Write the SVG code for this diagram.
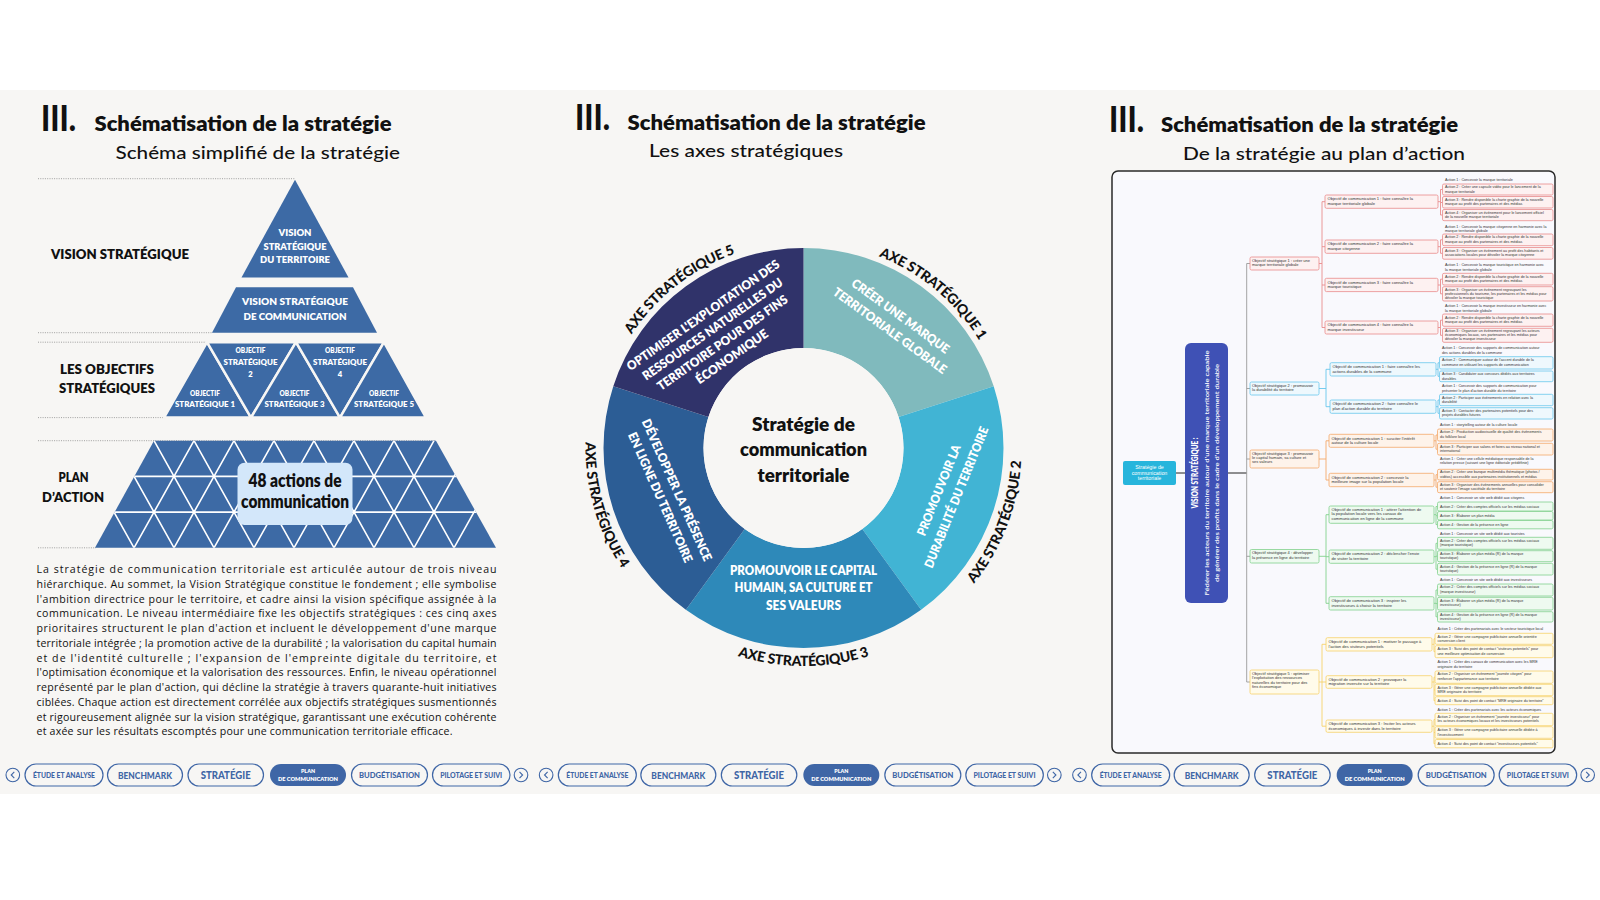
<svg xmlns="http://www.w3.org/2000/svg" width="1600" height="900" viewBox="0 0 1600 900">
<style>
.f{font-family:Lato,'Liberation Sans',sans-serif}
.h1{font-family:Lato,'Liberation Sans',sans-serif;font-weight:900;font-size:36px;fill:#111}
.h2{font-family:Lato,'Liberation Sans',sans-serif;font-weight:800;font-size:21px;fill:#111}
.h3{font-family:Lato,'Liberation Sans',sans-serif;font-weight:500;font-size:18px;fill:#111}
.lb{font-family:Lato,'Liberation Sans',sans-serif;font-weight:800;font-size:12.5px;fill:#111;text-anchor:middle}
.pw{font-family:Lato,'Liberation Sans',sans-serif;font-weight:800;fill:#fff;text-anchor:middle}
.dot{stroke:#8a8a8a;stroke-width:0.8;stroke-dasharray:1 1.3;fill:none}
.pyr{fill:#3d6aa5}
.para{font-family:'Open Sans','Liberation Sans',sans-serif;font-size:10.6px;fill:#111}
.pill{fill:#f7f6f4;stroke:#3f66a6;stroke-width:1.2}
.pt{font-family:Lato,'Liberation Sans',sans-serif;font-weight:900;fill:#3f66a6;text-anchor:middle}
.seg{font-family:Lato,'Liberation Sans',sans-serif;font-weight:800;font-size:12.5px;fill:#fff;text-anchor:middle}
.axe{font-family:Lato,'Liberation Sans',sans-serif;font-weight:900;font-size:14px;fill:#111;letter-spacing:-0.2px}
.ctr{font-family:Lato,'Liberation Sans',sans-serif;font-weight:800;font-size:19px;fill:#111;text-anchor:middle}
.mm{font-family:'Liberation Sans',Arial,sans-serif;fill:#333}
.os{font-size:4px}
.oc{font-size:4.1px}
.at{font-size:3.7px}
.r1{fill:#fdf1f1;stroke:#e98c8c;stroke-width:0.8}
.r2{fill:#eef8fd;stroke:#68c6ec;stroke-width:0.8}
.r3{fill:#fef3ea;stroke:#f4a86a;stroke-width:0.8}
.r4{fill:#eefaf0;stroke:#82d18d;stroke-width:0.8}
.r5{fill:#fffbea;stroke:#f6d26a;stroke-width:0.8}
.c1{stroke:#e98c8c;stroke-width:0.9;fill:none}
.c2{stroke:#68c6ec;stroke-width:0.9;fill:none}
.c3{stroke:#f4a86a;stroke-width:0.9;fill:none}
.c4{stroke:#82d18d;stroke-width:0.9;fill:none}
.c5{stroke:#f6d26a;stroke-width:0.9;fill:none}
</style>
<defs>
<clipPath id="bandClip"><polygon points="154,440.7 436,440.7 496,547.8 95,547.8"/></clipPath>
<path id="pA1" d="M 733.0 254.4 A 206 206 0 0 1 1006.4 483.8" fill="none"/>
<path id="pA5" d="M 599.5 476.7 A 206 206 0 0 1 880.7 257.0" fill="none"/>
<path id="pA2" d="M 837.6 663.3 A 218 218 0 0 0 972.9 310.8" fill="none"/>
<path id="pA3" d="M 614.7 557 A 218 218 0 0 0 992.3 557" fill="none"/>
<path id="pA4" d="M 646.7 296.6 A 218 218 0 0 0 750.8 659.5" fill="none"/>
<g id="navbar">
  <circle cx="12.8" cy="775" r="6.8" fill="none" stroke="#3f66a6" stroke-width="1.1"/>
  <path d="M 14.3 771.8 L 11.2 775 L 14.3 778.2" fill="none" stroke="#3f66a6" stroke-width="1.1"/>
  <rect class="pill" x="25" y="764" width="78" height="22" rx="11"/>
  <text class="pt" x="64" y="777.5" font-size="6.6" textLength="62" lengthAdjust="spacingAndGlyphs">ÉTUDE ET ANALYSE</text>
  <rect class="pill" x="107.5" y="764" width="75" height="22" rx="11"/>
  <text class="pt" x="145" y="778.5" font-size="9" textLength="54" lengthAdjust="spacingAndGlyphs">BENCHMARK</text>
  <rect class="pill" x="188" y="764" width="75.5" height="22" rx="11"/>
  <text class="pt" x="225.7" y="779" font-size="10.5" textLength="50" lengthAdjust="spacingAndGlyphs">STRATÉGIE</text>
  <rect x="270" y="764" width="76" height="22" rx="11" fill="#3f66a6"/>
  <text class="pw" x="308" y="773" font-size="5.5" textLength="14" lengthAdjust="spacingAndGlyphs">PLAN</text>
  <text class="pw" x="308" y="781" font-size="5.5" textLength="60" lengthAdjust="spacingAndGlyphs">DE COMMUNICATION</text>
  <rect class="pill" x="351.5" y="764" width="76" height="22" rx="11"/>
  <text class="pt" x="389.5" y="778" font-size="7.6" textLength="61" lengthAdjust="spacingAndGlyphs">BUDGÉTISATION</text>
  <rect class="pill" x="432.5" y="764" width="77.5" height="22" rx="11"/>
  <text class="pt" x="471.2" y="778" font-size="7.6" textLength="62" lengthAdjust="spacingAndGlyphs">PILOTAGE ET SUIVI</text>
  <circle cx="521" cy="775" r="6.8" fill="none" stroke="#3f66a6" stroke-width="1.1"/>
  <path d="M 519.5 771.8 L 522.6 775 L 519.5 778.2" fill="none" stroke="#3f66a6" stroke-width="1.1"/>
</g>
</defs>

<rect x="0" y="0" width="1600" height="900" fill="#ffffff"/>
<rect x="0" y="90" width="1600" height="704" fill="#f7f6f4"/>

<!-- ===== LEFT PANEL ===== -->
<g id="title-left">
  <text class="h1" x="41" y="131" textLength="35" lengthAdjust="spacingAndGlyphs">III.</text>
  <text class="h2" x="94.5" y="130.5" textLength="297" lengthAdjust="spacingAndGlyphs">Schématisation de la stratégie</text>
  <text class="h3" x="115.5" y="159" textLength="284.5" lengthAdjust="spacingAndGlyphs">Schéma simplifié de la stratégie</text>
</g>

<g id="pyramid-guides">
  <line class="dot" x1="38" y1="178.7" x2="295" y2="178.7"/>
  <line class="dot" x1="38" y1="332.7" x2="212" y2="332.7"/>
  <line class="dot" x1="38" y1="342.2" x2="206" y2="342.2"/>
  <line class="dot" x1="38" y1="417.6" x2="166" y2="417.6"/>
  <line class="dot" x1="38" y1="440.7" x2="436" y2="440.7"/>
  <line class="dot" x1="38" y1="547.8" x2="96" y2="547.8"/>
</g>

<g id="vision-territoire">
  <polygon class="pyr" points="295,179.7 241.5,277.4 348.5,277.4"/>
  <text class="pw" x="295" y="236" font-size="9" textLength="33" lengthAdjust="spacingAndGlyphs">VISION</text>
  <text class="pw" x="295" y="249.8" font-size="9" textLength="63" lengthAdjust="spacingAndGlyphs">STRATÉGIQUE</text>
  <text class="pw" x="295" y="263.1" font-size="9" textLength="70" lengthAdjust="spacingAndGlyphs">DU TERRITOIRE</text>
</g>
<g id="vision-communication">
  <polygon class="pyr" points="236,287.3 353,287.3 377,332.7 212,332.7"/>
  <text class="pw" x="295" y="305" font-size="9.8" textLength="106" lengthAdjust="spacingAndGlyphs">VISION STRATÉGIQUE</text>
  <text class="pw" x="295" y="319.8" font-size="9.8" textLength="103" lengthAdjust="spacingAndGlyphs">DE COMMUNICATION</text>
</g>
<g id="label-vision"><text class="lb" x="120" y="258.7" textLength="138" lengthAdjust="spacingAndGlyphs">VISION STRATÉGIQUE</text></g>

<g id="objectifs" stroke="#f7f6f4" stroke-width="2.5" stroke-linejoin="round">
  <polygon class="pyr" points="207,342.2 164,417.6 251,417.6"/>
  <polygon class="pyr" points="207,342.2 296,342.2 251,417.6"/>
  <polygon class="pyr" points="296,342.2 251,417.6 340,417.6"/>
  <polygon class="pyr" points="296,342.2 384,342.2 340,417.6"/>
  <polygon class="pyr" points="384,342.2 340,417.6 426,417.6"/>
</g>
<g id="objectif-labels">
  <text class="pw" x="205" y="395.5" font-size="7.6" textLength="30" lengthAdjust="spacingAndGlyphs">OBJECTIF</text>
  <text class="pw" x="205" y="407.2" font-size="7.6" textLength="60" lengthAdjust="spacingAndGlyphs">STRATÉGIQUE 1</text>
  <text class="pw" x="250.5" y="353" font-size="7.6" textLength="30" lengthAdjust="spacingAndGlyphs">OBJECTIF</text>
  <text class="pw" x="250.5" y="364.8" font-size="7.6" textLength="54" lengthAdjust="spacingAndGlyphs">STRATÉGIQUE</text>
  <text class="pw" x="250.5" y="376.8" font-size="7.6">2</text>
  <text class="pw" x="294.5" y="395.5" font-size="7.6" textLength="30" lengthAdjust="spacingAndGlyphs">OBJECTIF</text>
  <text class="pw" x="294.5" y="407.2" font-size="7.6" textLength="60" lengthAdjust="spacingAndGlyphs">STRATÉGIQUE 3</text>
  <text class="pw" x="340" y="353" font-size="7.6" textLength="30" lengthAdjust="spacingAndGlyphs">OBJECTIF</text>
  <text class="pw" x="340" y="364.8" font-size="7.6" textLength="54" lengthAdjust="spacingAndGlyphs">STRATÉGIQUE</text>
  <text class="pw" x="340" y="376.8" font-size="7.6">4</text>
  <text class="pw" x="384" y="395.5" font-size="7.6" textLength="30" lengthAdjust="spacingAndGlyphs">OBJECTIF</text>
  <text class="pw" x="384" y="407.2" font-size="7.6" textLength="60" lengthAdjust="spacingAndGlyphs">STRATÉGIQUE 5</text>
</g>
<g id="label-objectifs">
  <text class="lb" x="107" y="374" textLength="94" lengthAdjust="spacingAndGlyphs">LES OBJECTIFS</text>
  <text class="lb" x="107" y="393.3" textLength="96" lengthAdjust="spacingAndGlyphs">STRATÉGIQUES</text>
</g>

<g id="plan-action">
  <polygon class="pyr" points="154,440.7 436,440.7 496,547.8 95,547.8"/>
  <g clip-path="url(#bandClip)" stroke="#ffffff" stroke-width="1.6" fill="none">
    <path d="M 60 476.4 H 520 M 60 512.1 H 520
      M 74 440.7 L 134 547.8 M 114 440.7 L 174 547.8 M 154 440.7 L 214 547.8 M 194 440.7 L 254 547.8 M 234 440.7 L 294 547.8 M 274 440.7 L 334 547.8 M 314 440.7 L 374 547.8 M 354 440.7 L 414 547.8 M 394 440.7 L 454 547.8
      M 194 440.7 L 134 547.8 M 234 440.7 L 174 547.8 M 274 440.7 L 214 547.8 M 314 440.7 L 254 547.8 M 354 440.7 L 294 547.8 M 394 440.7 L 334 547.8 M 434 440.7 L 374 547.8 M 474 440.7 L 414 547.8 M 514 440.7 L 454 547.8"/>
  </g>
</g>
<g id="actions-box">
  <rect x="237.5" y="462.8" width="115" height="62.3" rx="7" fill="#d3e7fa"/>
  <text class="ctr" x="295" y="486.7" font-size="17" textLength="93" lengthAdjust="spacingAndGlyphs">48 actions de</text>
  <text class="ctr" x="295" y="507.8" font-size="17" textLength="108" lengthAdjust="spacingAndGlyphs">communication</text>
</g>
<g id="label-plan">
  <text class="lb" x="73.5" y="482.3" textLength="30" lengthAdjust="spacingAndGlyphs">PLAN</text>
  <text class="lb" x="73" y="501.7" textLength="62" lengthAdjust="spacingAndGlyphs">D’ACTION</text>
</g>

<g id="paragraph" class="para">
  <text x="36.5" y="573" textLength="460" lengthAdjust="spacing">La stratégie de communication territoriale est articulée autour de trois niveau</text>
  <text x="36.5" y="587.75" textLength="460" lengthAdjust="spacing">hiérarchique. Au sommet, la Vision Stratégique constitue le fondement ; elle symbolise</text>
  <text x="36.5" y="602.5" textLength="460" lengthAdjust="spacing">l'ambition directrice pour le territoire, et cadre ainsi la vision spécifique assignée à la</text>
  <text x="36.5" y="617.25" textLength="460" lengthAdjust="spacing">communication. Le niveau intermédiaire fixe les objectifs stratégiques : ces cinq axes</text>
  <text x="36.5" y="632" textLength="460" lengthAdjust="spacing">prioritaires structurent le plan d'action et incluent le développement d'une marque</text>
  <text x="36.5" y="646.75" textLength="460" lengthAdjust="spacing">territoriale intégrée ; la promotion active de la durabilité ; la valorisation du capital humain</text>
  <text x="36.5" y="661.5" textLength="460" lengthAdjust="spacing">et de l'identité culturelle ; l'expansion de l'empreinte digitale du territoire, et</text>
  <text x="36.5" y="676.25" textLength="460" lengthAdjust="spacing">l'optimisation économique et la valorisation des ressources. Enfin, le niveau opérationnel</text>
  <text x="36.5" y="691" textLength="460" lengthAdjust="spacing">représenté par le plan d'action, qui décline la stratégie à travers quarante-huit initiatives</text>
  <text x="36.5" y="705.75" textLength="460" lengthAdjust="spacing">ciblées. Chaque action est directement corrélée aux objectifs stratégiques susmentionnés</text>
  <text x="36.5" y="720.5" textLength="460" lengthAdjust="spacing">et rigoureusement alignée sur la vision stratégique, garantissant une exécution cohérente</text>
  <text x="36.5" y="735.25" textLength="416" lengthAdjust="spacing">et axée sur les résultats escomptés pour une communication territoriale efficace.</text>
</g>

<g id="nav-left"><use href="#navbar" x="0" y="0"/></g>

<!-- ===== MIDDLE PANEL ===== -->
<g id="title-middle">
  <text class="h1" x="575" y="130" textLength="35" lengthAdjust="spacingAndGlyphs">III.</text>
  <text class="h2" x="627.6" y="130" textLength="298" lengthAdjust="spacingAndGlyphs">Schématisation de la stratégie</text>
  <text class="h3" x="649" y="157" textLength="194" lengthAdjust="spacingAndGlyphs">Les axes stratégiques</text>
</g>

<g id="axe1">
  <path d="M 803.5 248 A 200 200 0 0 1 993.7 386.2 L 898.6 417.1 A 100 100 0 0 0 803.5 348 Z" fill="#80babd"/>
  <g transform="translate(895.3,323.3) rotate(36)">
    <text class="seg" x="0" y="-4.5" textLength="117" lengthAdjust="spacingAndGlyphs">CRÉER UNE MARQUE</text>
    <text class="seg" x="0" y="13.5" textLength="137" lengthAdjust="spacingAndGlyphs">TERRITORIALE GLOBALE</text>
  </g>
  <text class="axe"><textPath href="#pA1" startOffset="50%" text-anchor="middle">AXE STRATÉGIQUE 1</textPath></text>
</g>
<g id="axe2">
  <path d="M 993.7 386.2 A 200 200 0 0 1 921.1 609.8 L 862.3 528.9 A 100 100 0 0 0 898.6 417.1 Z" fill="#41b4d4"/>
  <g transform="translate(947.5,493.7) rotate(-68)">
    <text class="seg" x="0" y="-5" textLength="97" lengthAdjust="spacingAndGlyphs">PROMOUVOIR LA</text>
    <text class="seg" x="0" y="14" textLength="151" lengthAdjust="spacingAndGlyphs">DURABILITÉ DU TERRITOIRE</text>
  </g>
  <text class="axe"><textPath href="#pA2" startOffset="50%" text-anchor="middle">AXE STRATÉGIQUE 2</textPath></text>
</g>
<g id="axe3">
  <path d="M 921.1 609.8 A 200 200 0 0 1 685.9 609.8 L 744.7 528.9 A 100 100 0 0 0 862.3 528.9 Z" fill="#2e89b9"/>
  <text class="seg" x="803.5" y="575.2" textLength="147" lengthAdjust="spacingAndGlyphs">PROMOUVOIR LE CAPITAL</text>
  <text class="seg" x="803.5" y="592.2" textLength="138" lengthAdjust="spacingAndGlyphs">HUMAIN, SA CULTURE ET</text>
  <text class="seg" x="803.5" y="609.5" textLength="75" lengthAdjust="spacingAndGlyphs">SES VALEURS</text>
  <text class="axe"><textPath href="#pA3" startOffset="50%" text-anchor="middle">AXE STRATÉGIQUE 3</textPath></text>
</g>
<g id="axe4">
  <path d="M 685.9 609.8 A 200 200 0 0 1 613.3 386.2 L 708.4 417.1 A 100 100 0 0 0 744.7 528.9 Z" fill="#2c5d95"/>
  <g transform="translate(668.7,493.7) rotate(66)">
    <text class="seg" x="0" y="-4.5" textLength="154" lengthAdjust="spacingAndGlyphs">DÉVELOPPER LA PRÉSENCE</text>
    <text class="seg" x="0" y="13.5" textLength="141" lengthAdjust="spacingAndGlyphs">EN LIGNE DU TERRITOIRE</text>
  </g>
  <text class="axe"><textPath href="#pA4" startOffset="50%" text-anchor="middle">AXE STRATÉGIQUE 4</textPath></text>
</g>
<g id="axe5">
  <path d="M 613.3 386.2 A 200 200 0 0 1 803.5 248 L 803.5 348 A 100 100 0 0 0 708.4 417.1 Z" fill="#30336a"/>
  <g transform="translate(717.4,335.8) rotate(-35)">
    <text class="seg" x="0" y="-20.7" textLength="183" lengthAdjust="spacingAndGlyphs">OPTIMISER L'EXPLOITATION DES</text>
    <text class="seg" x="0" y="-3.9" textLength="168" lengthAdjust="spacingAndGlyphs">RESSOURCES NATURELLES DU</text>
    <text class="seg" x="0" y="12.9" textLength="156" lengthAdjust="spacingAndGlyphs">TERRITOIRE POUR DES FINS</text>
    <text class="seg" x="0" y="29.7" textLength="85" lengthAdjust="spacingAndGlyphs">ÉCONOMIQUE</text>
  </g>
  <text class="axe"><textPath href="#pA5" startOffset="50%" text-anchor="middle">AXE STRATÉGIQUE 5</textPath></text>
</g>
<g id="centre">
  <circle cx="803.5" cy="448" r="100" fill="#f7f6f4"/>
  <text class="ctr" x="803.5" y="430.5" textLength="103" lengthAdjust="spacingAndGlyphs">Stratégie de</text>
  <text class="ctr" x="803.5" y="455.5" textLength="127" lengthAdjust="spacingAndGlyphs">communication</text>
  <text class="ctr" x="803.5" y="481.5" textLength="92" lengthAdjust="spacingAndGlyphs">territoriale</text>
</g>

<g id="nav-middle"><use href="#navbar" x="533.33" y="0"/></g>

<!-- ===== RIGHT PANEL ===== -->
<g id="title-right">
  <text class="h1" x="1109" y="132" textLength="35" lengthAdjust="spacingAndGlyphs">III.</text>
  <text class="h2" x="1161" y="132" textLength="297" lengthAdjust="spacingAndGlyphs">Schématisation de la stratégie</text>
  <text class="h3" x="1183" y="159.5" textLength="282" lengthAdjust="spacingAndGlyphs">De la stratégie au plan d’action</text>
</g>

<rect x="1112" y="171" width="443" height="582" rx="6" fill="#f9f9fd" stroke="#2a2a2a" stroke-width="1.5"/>

<g id="connectors">
  <line x1="1176" y1="473" x2="1185" y2="473" stroke="#222" stroke-width="1"/>
  <line x1="1228" y1="473" x2="1246.7" y2="473" stroke="#222" stroke-width="1"/>
  <path d="M 1250 263.5 H 1246.7 V 682 H 1250 M 1246.7 388.5 H 1250 M 1246.7 459 H 1250 M 1246.7 556.3 H 1250" stroke="#9a9a9a" stroke-width="0.9" fill="none"/>
  <path class="c1" d="M 1319 263.5 H 1322 M 1325 201.7 H 1322 V 327.5 H 1325 M 1322 246.7 H 1325 M 1322 285 H 1325"/>
  <path class="c1" d="M 1438 201.7 H 1440.5 M 1442.5 189.5 H 1440.5 V 215 H 1442.5 M 1440.5 202.5 H 1442.5"/>
  <path class="c1" d="M 1438 246.7 H 1440.5 M 1442.5 239.8 H 1440.5 V 253.3 H 1442.5"/>
  <path class="c1" d="M 1438 285 H 1440.5 M 1442.5 279.2 H 1440.5 V 293.8 H 1442.5"/>
  <path class="c1" d="M 1438 327.5 H 1440.5 M 1442.5 320.2 H 1440.5 V 335.3 H 1442.5"/>
  <path class="c2" d="M 1319 388.5 H 1326 M 1330 369.3 H 1326 V 406.7 H 1330"/>
  <path class="c2" d="M 1436 369.3 H 1438 M 1439.5 362.8 H 1438 V 376.3 H 1439.5"/>
  <path class="c2" d="M 1436 406.7 H 1438 M 1439.5 400 H 1438 V 413.3 H 1439.5"/>
  <path class="c3" d="M 1319 459 H 1326 M 1329 440.8 H 1326 V 480 H 1329"/>
  <path class="c3" d="M 1434 440.8 H 1436 M 1437.5 435 H 1436 V 449.2 H 1437.5"/>
  <path class="c3" d="M 1434 480 H 1436 M 1437.5 474.7 H 1436 V 487.2 H 1437.5"/>
  <path class="c4" d="M 1319 556.3 H 1326 M 1329 514.7 H 1326 V 603.3 H 1329 M 1326 556.7 H 1329"/>
  <path class="c4" d="M 1434 514.7 H 1436 M 1437.5 506.5 H 1436 V 524.6 H 1437.5 M 1436 515.7 H 1437.5"/>
  <path class="c4" d="M 1434 556.7 H 1436 M 1437.5 543.3 H 1436 V 569.2 H 1437.5 M 1436 556.2 H 1437.5"/>
  <path class="c4" d="M 1434 603.3 H 1436 M 1437.5 590 H 1436 V 616.8 H 1437.5 M 1436 603.6 H 1437.5"/>
  <path class="c5" d="M 1319 682 H 1322 M 1326 644.3 H 1322 V 726.2 H 1326 M 1322 682 H 1326"/>
  <path class="c5" d="M 1432 644.3 H 1434 M 1435 638.8 H 1434 V 651.7 H 1435"/>
  <path class="c5" d="M 1432 682 H 1434 M 1435 677.2 H 1434 V 700.7 H 1435 M 1434 690 H 1435"/>
  <path class="c5" d="M 1432 726.2 H 1434 M 1435 719.5 H 1434 V 743.7 H 1435 M 1434 732.5 H 1435"/>
</g>

<g id="root">
  <rect x="1123" y="461" width="53" height="24" rx="2" fill="#27b5dc"/>
  <text class="mm" x="1149.5" y="469" font-size="5.3" text-anchor="middle" style="fill:#fff">Stratégie de</text>
  <text class="mm" x="1149.5" y="474.5" font-size="5.3" text-anchor="middle" style="fill:#fff">communication</text>
  <text class="mm" x="1149.5" y="480" font-size="5.3" text-anchor="middle" style="fill:#fff">territoriale</text>
</g>

<g id="vision">
  <rect x="1185" y="343" width="43" height="260" rx="6" fill="#3f51b5"/>
  <g transform="translate(1206.5,473) rotate(-90)">
    <text class="pw" x="0" y="-8.6" font-size="8.3" textLength="71" lengthAdjust="spacingAndGlyphs">VISION STRATÉGIQUE :</text>
    <text x="0" y="2.4" font-family="Lato,'Liberation Sans',sans-serif" font-weight="600" font-size="6.3" fill="#fff" text-anchor="middle" textLength="245" lengthAdjust="spacingAndGlyphs">Fédérer les acteurs du territoire autour d'une marque territoriale capable</text>
    <text x="0" y="12.4" font-family="Lato,'Liberation Sans',sans-serif" font-weight="600" font-size="6.3" fill="#fff" text-anchor="middle" textLength="218" lengthAdjust="spacingAndGlyphs">de générer des profits dans le cadre d'un développement durable</text>
  </g>
</g>

<g id="os1" class="mm">
  <rect class="r1" x="1250" y="257" width="69" height="13" rx="1.5"/>
  <text class="os" x="1252" y="261.8">Objectif stratégique 1 : créer une<tspan x="1252" dy="4.4">marque territoriale globale</tspan></text>
</g>
<g id="os1-oc1" class="mm">
  <rect class="r1" x="1325" y="195" width="113" height="13.3" rx="1.5" stroke-width="1"/>
  <text class="oc" x="1327.5" y="200.3">Objectif de communication 1 : faire connaître la<tspan x="1327.5" dy="4.7">marque territoriale globale</tspan></text>
  <text class="at" x="1445" y="180.5">Action 1 : Concevoir la marque territoriale</text>
  <rect class="r1" x="1442.5" y="184" width="110.5" height="11" rx="1.5"/>
  <text class="at" x="1445" y="188.3">Action 2 : Créer une capsule vidéo pour le lancement de la<tspan x="1445" dy="4.5">marque territoriale</tspan></text>
  <rect class="r1" x="1442.5" y="196.5" width="110.5" height="11.5" rx="1.5"/>
  <text class="at" x="1445" y="200.8">Action 3 : Rendre disponible la charte graphie de la nouvelle<tspan x="1445" dy="4.5">marque au profit des partenaires et des médias</tspan></text>
  <rect class="r1" x="1442.5" y="209.5" width="110.5" height="11.2" rx="1.5"/>
  <text class="at" x="1445" y="213.8">Action 4 : Organiser un évènement pour le lancement officiel<tspan x="1445" dy="4.5">de la nouvelle marque territoriale</tspan></text>
</g>
<g id="os1-oc2" class="mm">
  <rect class="r1" x="1325" y="240" width="113" height="13.3" rx="1.5" stroke-width="1"/>
  <text class="oc" x="1327.5" y="245.3">Objectif de communication 2 : faire connaître la<tspan x="1327.5" dy="4.7">marque citoyenne</tspan></text>
  <text class="at" x="1445" y="227.8">Action 1 : Concevoir la marque citoyenne en harmonie avec la<tspan x="1445" dy="4.5">marque territoriale globale</tspan></text>
  <rect class="r1" x="1442.5" y="234" width="110.5" height="11.7" rx="1.5"/>
  <text class="at" x="1445" y="238.3">Action 2 : Rendre disponible la charte graphie de la nouvelle<tspan x="1445" dy="4.5">marque au profit des partenaires et des médias</tspan></text>
  <rect class="r1" x="1442.5" y="247.5" width="110.5" height="11.7" rx="1.5"/>
  <text class="at" x="1445" y="251.8">Action 3 : Organiser un évènement au profit des habitants et<tspan x="1445" dy="4.5">associations locales pour dévoiler la marque citoyenne</tspan></text>
</g>
<g id="os1-oc3" class="mm">
  <rect class="r1" x="1325" y="278.3" width="113" height="13.3" rx="1.5" stroke-width="1"/>
  <text class="oc" x="1327.5" y="283.6">Objectif de communication 3 : faire connaître la<tspan x="1327.5" dy="4.7">marque touristique</tspan></text>
  <text class="at" x="1445" y="266.3">Action 1 : Concevoir la marque touristique en harmonie avec<tspan x="1445" dy="4.5">la marque territoriale globale</tspan></text>
  <rect class="r1" x="1442.5" y="273.3" width="110.5" height="11.7" rx="1.5"/>
  <text class="at" x="1445" y="277.6">Action 2 : Rendre disponible la charte graphie de la nouvelle<tspan x="1445" dy="4.5">marque au profit des partenaires et des médias</tspan></text>
  <rect class="r1" x="1442.5" y="286.7" width="110.5" height="14.3" rx="1.5"/>
  <text class="at" x="1445" y="290.6">Action 3 : Organiser un évènement regroupant les<tspan x="1445" dy="4">professionnels du tourisme, les partenaires et les médias pour</tspan><tspan x="1445" dy="4">dévoiler la marque touristique</tspan></text>
</g>
<g id="os1-oc4" class="mm">
  <rect class="r1" x="1325" y="321" width="113" height="13" rx="1.5" stroke-width="1"/>
  <text class="oc" x="1327.5" y="326.3">Objectif de communication 4 : faire connaître la<tspan x="1327.5" dy="4.7">marque investisseur</tspan></text>
  <text class="at" x="1445" y="307.3">Action 1 : Concevoir la marque investisseur en harmonie avec<tspan x="1445" dy="4.5">la marque territoriale globale</tspan></text>
  <rect class="r1" x="1442.5" y="314" width="110.5" height="12.3" rx="1.5"/>
  <text class="at" x="1445" y="318.6">Action 2 : Rendre disponible la charte graphie de la nouvelle<tspan x="1445" dy="4.5">marque au profit des partenaires et des médias</tspan></text>
  <rect class="r1" x="1442.5" y="328.3" width="110.5" height="14" rx="1.5"/>
  <text class="at" x="1445" y="332.3">Action 3 : Organiser un évènement regroupant les acteurs<tspan x="1445" dy="4">économiques locaux, ses partenaires et les médias pour</tspan><tspan x="1445" dy="4">dévoiler la marque investisseur</tspan></text>
</g>

<g id="os2" class="mm">
  <rect class="r2" x="1250" y="382" width="69" height="13" rx="1.5"/>
  <text class="os" x="1252" y="386.8">Objectif stratégique 2 : promouvoir<tspan x="1252" dy="4.4">la durabilité du territoire</tspan></text>
</g>
<g id="os2-oc1" class="mm">
  <rect class="r2" x="1330" y="362.7" width="106" height="13.3" rx="1.5" stroke-width="1"/>
  <text class="oc" x="1332.5" y="368">Objectif de communication 1 : faire connaître les<tspan x="1332.5" dy="4.7">actions durables de la commune</tspan></text>
  <text class="at" x="1442" y="349.3">Action 1 : Concevoir des supports de communication autour<tspan x="1442" dy="4.5">des actions durables de la commune</tspan></text>
  <rect class="r2" x="1439.5" y="356.7" width="113.5" height="12.3" rx="1.5"/>
  <text class="at" x="1442" y="361">Action 2 : Communiquer autour de l'accent durable de la<tspan x="1442" dy="4.5">commune en utilisant les supports de communication</tspan></text>
  <rect class="r2" x="1439.5" y="371" width="113.5" height="10.7" rx="1.5"/>
  <text class="at" x="1442" y="375">Action 3 : Candidater aux concours dédiés aux territoires<tspan x="1442" dy="4.5">durables</tspan></text>
</g>
<g id="os2-oc2" class="mm">
  <rect class="r2" x="1330" y="400" width="106" height="13.3" rx="1.5" stroke-width="1"/>
  <text class="oc" x="1332.5" y="405.3">Objectif de communication 2 : faire connaître le<tspan x="1332.5" dy="4.7">plan d'action durable du territoire</tspan></text>
  <text class="at" x="1442" y="387.3">Action 1 : Concevoir des supports de communication pour<tspan x="1442" dy="4.5">présenter le plan d'action durable du territoire</tspan></text>
  <rect class="r2" x="1439.5" y="394.3" width="113.5" height="11.4" rx="1.5"/>
  <text class="at" x="1442" y="398.5">Action 2 : Participer aux évènements en relation avec la<tspan x="1442" dy="4.5">durabilité</tspan></text>
  <rect class="r2" x="1439.5" y="407.7" width="113.5" height="11.3" rx="1.5"/>
  <text class="at" x="1442" y="411.8">Action 3 : Contacter des partenaires potentiels pour des<tspan x="1442" dy="4.5">projets durables futures</tspan></text>
</g>

<g id="os3" class="mm">
  <rect class="r3" x="1250" y="450" width="69" height="18" rx="1.5"/>
  <text class="os" x="1252" y="454.6">Objectif stratégique 3 : promouvoir<tspan x="1252" dy="4.4">le capital humain, sa culture et</tspan><tspan x="1252" dy="4.4">ses valeurs</tspan></text>
</g>
<g id="os3-oc1" class="mm">
  <rect class="r3" x="1329" y="434.3" width="105" height="13" rx="1.5" stroke-width="1"/>
  <text class="oc" x="1331.5" y="439.5">Objectif de communication 1 : susciter l'intérêt<tspan x="1331.5" dy="4.7">autour de la culture locale</tspan></text>
  <text class="at" x="1440" y="425.8">Action 1 : storytelling autour de la culture locale</text>
  <rect class="r3" x="1437.5" y="429" width="115.5" height="12" rx="1.5"/>
  <text class="at" x="1440" y="433.2">Action 2 : Production audiovisuelle de qualité des évènements<tspan x="1440" dy="4.5">du folklore local</tspan></text>
  <rect class="r3" x="1437.5" y="443.3" width="115.5" height="11.7" rx="1.5"/>
  <text class="at" x="1440" y="447.5">Action 3 : Participer aux salons et foires au niveau national et<tspan x="1440" dy="4.5">international</tspan></text>
</g>
<g id="os3-oc2" class="mm">
  <rect class="r3" x="1329" y="473.3" width="105" height="13.4" rx="1.5" stroke-width="1"/>
  <text class="oc" x="1331.5" y="478.6">Objectif de communication 2 : concevoir la<tspan x="1331.5" dy="4.7">meilleure image sur la population locale</tspan></text>
  <text class="at" x="1440" y="459.8">Action 1 : Créer une cellule médiatique responsable de la<tspan x="1440" dy="4.5">relation presse (suivant une ligne éditoriale prédéfinie)</tspan></text>
  <rect class="r3" x="1437.5" y="469.3" width="115.5" height="10.7" rx="1.5"/>
  <text class="at" x="1440" y="473.3">Action 2 : Créer une banque multimédia thématique (photos /<tspan x="1440" dy="4.5">vidéos) accessible aux partenaires institutionnels et médias</tspan></text>
  <rect class="r3" x="1437.5" y="481.7" width="115.5" height="11" rx="1.5"/>
  <text class="at" x="1440" y="485.8">Action 3 : Organiser des évènements annuelles pour consolider<tspan x="1440" dy="4.5">et soutenir l'image sociétale du territoire</tspan></text>
</g>

<g id="os4" class="mm">
  <rect class="r4" x="1250" y="549.5" width="69" height="13.5" rx="1.5"/>
  <text class="os" x="1252" y="554.3">Objectif stratégique 4 : développer<tspan x="1252" dy="4.4">la présence en ligne du territoire</tspan></text>
</g>
<g id="os4-oc1" class="mm">
  <rect class="r4" x="1329" y="506" width="105" height="17.3" rx="1.5" stroke-width="1"/>
  <text class="oc" x="1331.5" y="510.8">Objectif de communication 1 : attirer l'attention de<tspan x="1331.5" dy="4.5">la population locale vers les canaux de</tspan><tspan x="1331.5" dy="4.5">communication en ligne de la commune</tspan></text>
  <text class="at" x="1440" y="498.7">Action 1 : Concevoir un site web dédié aux citoyens</text>
  <rect class="r4" x="1437.5" y="502" width="115.5" height="9" rx="1.5"/>
  <text class="at" x="1440" y="507.8">Action 2 : Créer des comptes officiels sur les médias sociaux</text>
  <rect class="r4" x="1437.5" y="511.5" width="115.5" height="8.5" rx="1.5"/>
  <text class="at" x="1440" y="517">Action 3 : Élaborer un plan média</text>
  <rect class="r4" x="1437.5" y="520.5" width="115.5" height="8.3" rx="1.5"/>
  <text class="at" x="1440" y="525.9">Action 4 : Gestion de la présence en ligne</text>
</g>
<g id="os4-oc2" class="mm">
  <rect class="r4" x="1329" y="550" width="105" height="13.3" rx="1.5" stroke-width="1"/>
  <text class="oc" x="1331.5" y="555.3">Objectif de communication 2 : déclencher l'envie<tspan x="1331.5" dy="4.7">de visiter la territoire</tspan></text>
  <text class="at" x="1440" y="534.7">Action 1 : Concevoir un site web dédié aux touristes</text>
  <rect class="r4" x="1437.5" y="537.3" width="115.5" height="12" rx="1.5"/>
  <text class="at" x="1440" y="541.6">Action 2 : Créer des comptes officiels sur les médias sociaux<tspan x="1440" dy="4.5">(marque touristique)</tspan></text>
  <rect class="r4" x="1437.5" y="550.7" width="115.5" height="11" rx="1.5"/>
  <text class="at" x="1440" y="554.9">Action 3 : Élaborer un plan média (R) de la marque<tspan x="1440" dy="4.5">touristique)</tspan></text>
  <rect class="r4" x="1437.5" y="563.3" width="115.5" height="11.7" rx="1.5"/>
  <text class="at" x="1440" y="567.6">Action 4 : Gestion de la présence en ligne (R) de la marque<tspan x="1440" dy="4.5">touristique)</tspan></text>
</g>
<g id="os4-oc3" class="mm">
  <rect class="r4" x="1329" y="596.7" width="105" height="13.3" rx="1.5" stroke-width="1"/>
  <text class="oc" x="1331.5" y="602">Objectif de communication 3 : inspirer les<tspan x="1331.5" dy="4.7">investisseurs à choisir la territoire</tspan></text>
  <text class="at" x="1440" y="581.4">Action 1 : Concevoir un site web dédié aux investisseurs</text>
  <rect class="r4" x="1437.5" y="584" width="115.5" height="12" rx="1.5"/>
  <text class="at" x="1440" y="588.3">Action 2 : Créer des comptes officiels sur les médias sociaux<tspan x="1440" dy="4.5">(marque investisseur)</tspan></text>
  <rect class="r4" x="1437.5" y="597.3" width="115.5" height="12.7" rx="1.5"/>
  <text class="at" x="1440" y="601.6">Action 3 : Élaborer un plan média (R) de la marque<tspan x="1440" dy="4.5">investisseur)</tspan></text>
  <rect class="r4" x="1437.5" y="611.7" width="115.5" height="10.3" rx="1.5"/>
  <text class="at" x="1440" y="615.7">Action 4 : Gestion de la présence en ligne (R) de la marque<tspan x="1440" dy="4.5">investisseur)</tspan></text>
</g>

<g id="os5" class="mm">
  <rect class="r5" x="1250" y="670" width="69" height="24" rx="1.5"/>
  <text class="os" x="1252" y="675">Objectif stratégique 5 : optimiser<tspan x="1252" dy="4.4">l'exploitation des ressources</tspan><tspan x="1252" dy="4.4">naturelles du territoire pour des</tspan><tspan x="1252" dy="4.4">fins économique</tspan></text>
</g>
<g id="os5-oc1" class="mm">
  <rect class="r5" x="1326" y="637.7" width="106" height="13.3" rx="1.5" stroke-width="1"/>
  <text class="oc" x="1328.5" y="643">Objectif de communication 1 : motiver le passage à<tspan x="1328.5" dy="4.7">l'action des visiteurs potentiels</tspan></text>
  <text class="at" x="1437.5" y="630.3">Action 1 : Créer des partenariats avec le secteur touristique local</text>
  <rect class="r5" x="1435" y="633.3" width="118" height="11" rx="1.5"/>
  <text class="at" x="1437.5" y="637.5">Action 2 : Gérer une campagne publicitaire annuelle orientée<tspan x="1437.5" dy="4.5">conversion client</tspan></text>
  <rect class="r5" x="1435" y="645.7" width="118" height="12" rx="1.5"/>
  <text class="at" x="1437.5" y="650">Action 3 : Suivi des point de contact "visiteurs potentiels" pour<tspan x="1437.5" dy="4.5">une meilleure optimisation de conversion</tspan></text>
</g>
<g id="os5-oc2" class="mm">
  <rect class="r5" x="1326" y="675.7" width="106" height="12.6" rx="1.5" stroke-width="1"/>
  <text class="oc" x="1328.5" y="680.8">Objectif de communication 2 : provoquer la<tspan x="1328.5" dy="4.6">migration inversée sur la territoire</tspan></text>
  <text class="at" x="1437.5" y="663.2">Action 1 : Créer des canaux de communication avec les MRE<tspan x="1437.5" dy="4.5">originaire du territoire</tspan></text>
  <rect class="r5" x="1435" y="671" width="118" height="12.3" rx="1.5"/>
  <text class="at" x="1437.5" y="675.3">Action 2 : Organiser un évènement "journée citoyen" pour<tspan x="1437.5" dy="4.5">renforcer l'appartenance aux territoire</tspan></text>
  <rect class="r5" x="1435" y="684.3" width="118" height="11.4" rx="1.5"/>
  <text class="at" x="1437.5" y="688.5">Action 3 : Gérer une campagne publicitaire annuelle dédiée aux<tspan x="1437.5" dy="4.5">MRE originaire du territoire</tspan></text>
  <rect class="r5" x="1435" y="696.7" width="118" height="8" rx="1.5"/>
  <text class="at" x="1437.5" y="702">Action 4 : Suivi des point de contact "MRE originaire du territoire"</text>
</g>
<g id="os5-oc3" class="mm">
  <rect class="r5" x="1326" y="720" width="106" height="12.3" rx="1.5" stroke-width="1"/>
  <text class="oc" x="1328.5" y="725">Objectif de communication 3 : Inciter les acteurs<tspan x="1328.5" dy="4.6">économiques à investir dans le territoire</tspan></text>
  <text class="at" x="1437.5" y="711">Action 1 : Créer des partenariats avec les acteurs économiques</text>
  <rect class="r5" x="1435" y="713.3" width="118" height="12.4" rx="1.5"/>
  <text class="at" x="1437.5" y="717.6">Action 2 : Organiser un évènement "journée investisseur" pour<tspan x="1437.5" dy="4.5">les acteurs économiques locaux et les investisseurs potentiels</tspan></text>
  <rect class="r5" x="1435" y="726.7" width="118" height="11.6" rx="1.5"/>
  <text class="at" x="1437.5" y="731">Action 3 : Gérer une campagne publicitaire annuelle dédiée à<tspan x="1437.5" dy="4.5">l'investissement</tspan></text>
  <rect class="r5" x="1435" y="739.5" width="118" height="8.3" rx="1.5"/>
  <text class="at" x="1437.5" y="745">Action 4 : Suivi des point de contact "investisseurs potentiels"</text>
</g>

<g id="nav-right"><use href="#navbar" x="1066.67" y="0"/></g>
</svg>
